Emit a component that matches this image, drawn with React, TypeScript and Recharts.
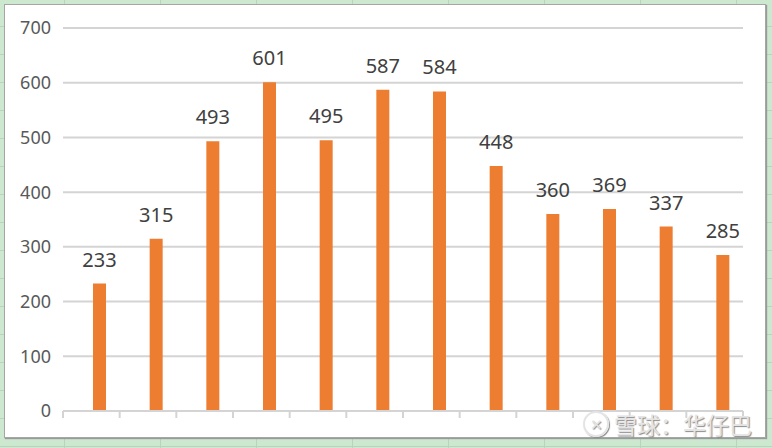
import React from "react";
import { BarChart, Bar, XAxis, YAxis, CartesianGrid, LabelList } from "recharts";

const categories = ["1", "2", "3", "4", "5", "6", "7", "8", "9", "10", "11", "12"];
const values = [233, 315, 493, 601, 495, 587, 584, 448, 360, 369, 337, 285];
const yTicks = [0, 100, 200, 300, 400, 500, 600, 700];
const watermark = "雪球：华仔巴";

const data = categories.map((c, i) => ({ name: c, value: values[i] }));

const AXIS_GRAY = "#D4D4D4";

const BoundaryTick = (props: any) => {
  const { y, payload, index } = props;
  const half = payload && typeof payload.offset === "number" ? payload.offset : 0;
  const cx = payload ? payload.coordinate : props.x;
  const left = cx - half;
  const right = cx + half;
  return (
    <g>
      <line x1={left} x2={left} y1={y} y2={y + 7} stroke={AXIS_GRAY} strokeWidth={2} />
      {index === categories.length - 1 && (
        <line x1={right} x2={right} y1={y} y2={y + 7} stroke={AXIS_GRAY} strokeWidth={2} />
      )}
    </g>
  );
};

export default function App() {
  return (
    <div
      style={{
        position: "fixed",
        left: 0,
        top: 0,
        width: 772,
        height: 448,
        overflow: "hidden",
        backgroundColor: "#CCE8CF",
        backgroundImage:
          "linear-gradient(to right, #B9D3BC 1px, transparent 1px), linear-gradient(to bottom, #B9D3BC 1px, transparent 1px)",
        backgroundSize: "96px 28px",
        backgroundPosition: "64px 26px",
        fontFamily: "'Noto Sans', sans-serif",
      }}
    >
      <div
        style={{
          position: "absolute",
          left: 4,
          top: 4,
          width: 760,
          height: 432,
          background: "#fff",
          border: "1px solid #A6A6A6",
          boxShadow: "1px 1px 1px #9a9a9a",
        }}
      >
        <BarChart
          width={760}
          height={432}
          data={data}
          margin={{ top: 23, right: 22, bottom: 0, left: 0 }}
          barSize={13}
          barGap={4}
          style={{ fontFamily: "'Noto Sans', sans-serif" }}
        >
          <CartesianGrid vertical={false} stroke={AXIS_GRAY} strokeWidth={2} />
          <XAxis
            dataKey="name"
            height={26}
            interval={0}
            axisLine={{ stroke: AXIS_GRAY, strokeWidth: 2 }}
            tickLine={false}
            tickSize={0}
            tickMargin={0}
            tick={<BoundaryTick />}
          />
          <YAxis
            domain={[0, 700]}
            ticks={yTicks}
            width={58}
            axisLine={false}
            tickLine={false}
            tickSize={0}
            tickMargin={12}
            tick={{ fill: "#595959", fontSize: 18 }}
          />
          <Bar dataKey="none" fill="transparent" isAnimationActive={false} />
          <Bar dataKey="value" fill="#ED7D31" isAnimationActive={false}>
            <LabelList dataKey="value" position="top" offset={17} fill="#404040" fontSize={20} />
          </Bar>
        </BarChart>
      </div>
      <div
        style={{
          position: "absolute",
          left: 583,
          top: 407,
          display: "flex",
          alignItems: "center",
          color: "#E4E4E4",
          textShadow: "1px 1px 1px #8a8a8a",
          fontSize: 23,
          fontFamily: "'Noto Sans CJK SC', sans-serif",
          whiteSpace: "nowrap",
        }}
      >
        <span
          style={{
            display: "inline-block",
            width: 22,
            height: 22,
            borderRadius: "50%",
            border: "2px solid #E4E4E4",
            boxShadow: "1px 1px 1px #8a8a8a",
            marginRight: 5,
            fontSize: 15,
            lineHeight: "22px",
            textAlign: "center",
          }}
        >
          ✕
        </span>
        <span>{watermark}</span>
      </div>
    </div>
  );
}
